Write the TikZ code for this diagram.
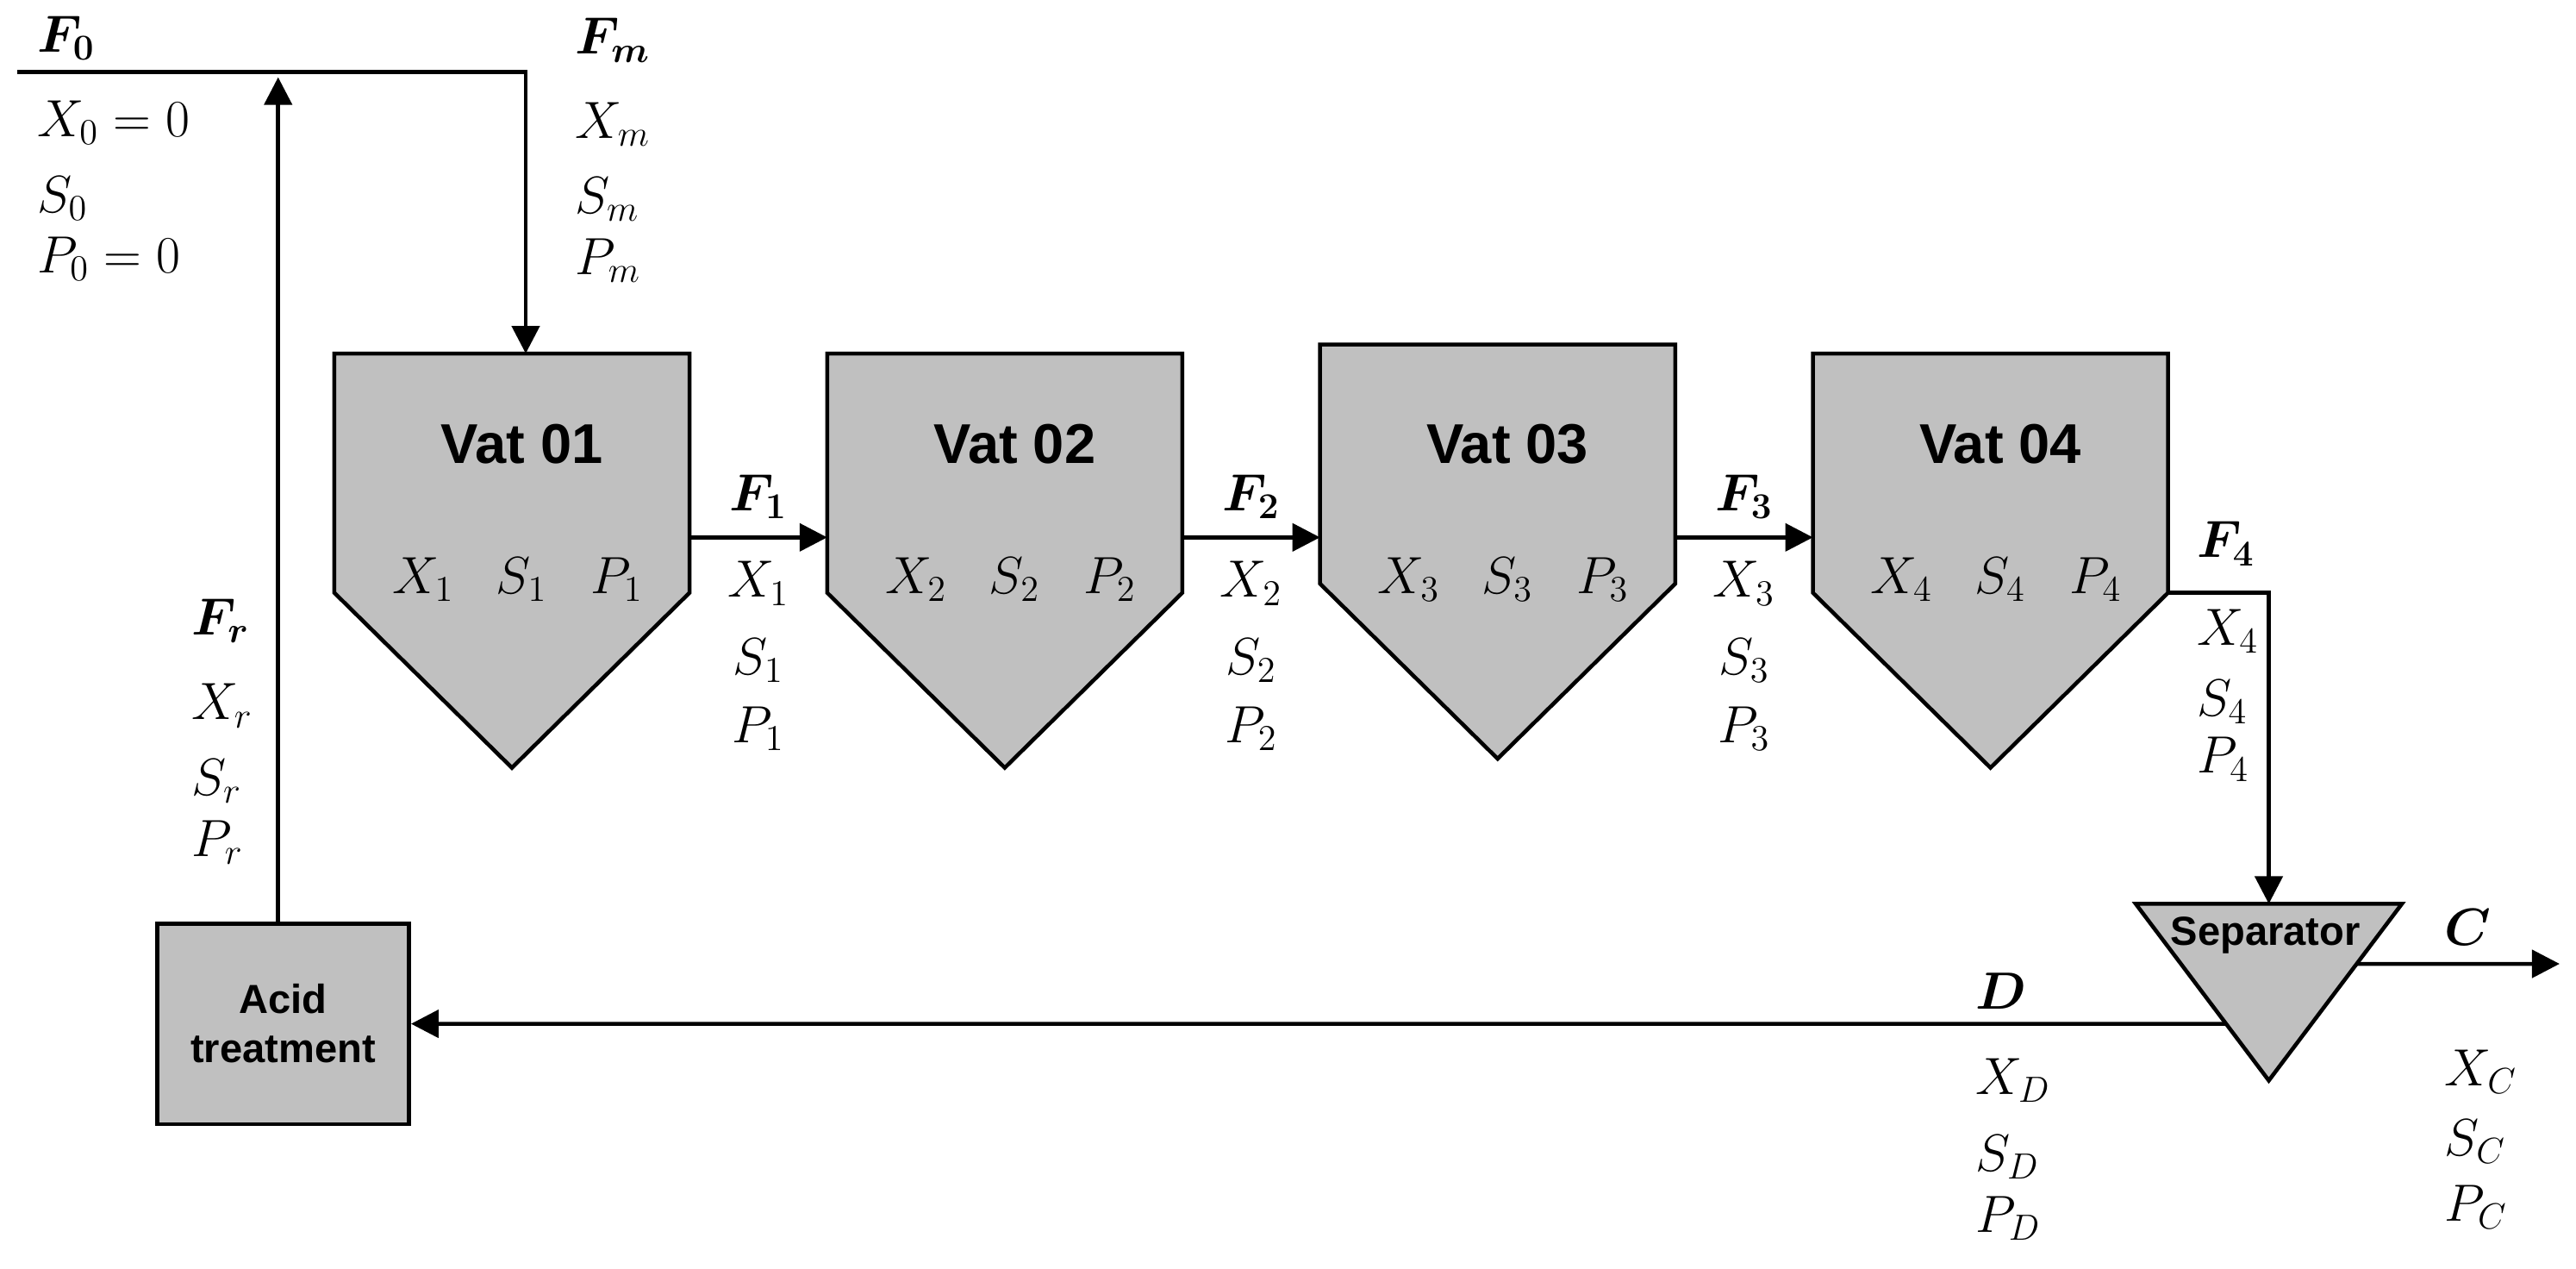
\documentclass[tikz,border=0pt]{standalone}
\usepackage{fontspec}
\setmainfont{Liberation Sans}
\usepackage{bm}
\usetikzlibrary{arrows.meta,positioning,calc}
\definecolor{vatgray}{RGB}{192,192,192}

\begin{document}
\begin{tikzpicture}[x=0.1906mm, y=-0.1906mm, line width=1.3pt,
		v/.style={font=\fontsize{17.28}{20}\selectfont, inner sep=0pt, anchor=base},
		vl/.style={v, anchor=base west},
		ttl/.style={font=\fontsize{18.5}{22}\selectfont\bfseries, inner sep=0pt},
		unit/.style={draw, fill=vatgray, font=\fontsize{13.4}{16.2}\selectfont\bfseries, align=center},
		body/.style={minimum width=40.75mm, minimum height=27.29mm, inner sep=0pt},
		flow/.style={-{Triangle[length=3.2mm,width=3.2mm]}}]
	\useasboundingbox (0,0) rectangle (1568,772);
	\coordinate (titleline) at (0,270);
	\coordinate (varline) at (0,361);
	\foreach \n/\x/\y in {1/311.6/287.9, 2/611.6/287.9, 3/911.6/282.4, 4/1211.6/287.9} {
		\node[body] (vat\n) at (\x,\y) {};
		\draw[fill=vatgray] (vat\n.north west) -- (vat\n.north east) -- (vat\n.south east)
			-- ($(vat\n.south)+(0,106.5)$) -- (vat\n.south west) -- cycle;
		\node[ttl] at ($(vat\n.north |- titleline)+(6,0)$) {Vat 0\n};
		\node[v] at ($(vat\n.south |- varline)+(-54,0)$) {$X_\n$};
		\node[v] at ($(vat\n.south |- varline)+(6,0)$) {$S_\n$};
		\node[v] at ($(vat\n.south |- varline)+(64,0)$) {$P_\n$};
	}
	\coordinate (lvl) at (0,327);
	\foreach \a/\b in {1/2,2/3,3/4} {
		\draw[flow] (vat\a.east |- lvl) -- coordinate (m\a) (vat\b.west |- lvl);
		\node[v] (f\a) at ($(m\a)+(0,-16)$) {$\bm{F_\a}$};
		\node[v] at ($(m\a)+(0,36.5)$) {$X_\a$};
		\node[v] at ($(m\a)+(0,83.5)$) {$S_\a$};
		\node[v] at ($(m\a)+(0,125)$) {$P_\a$};
	}
	\coordinate (feed) at (10.7,43.7);
	\coordinate (in1) at ($(vat1.north)+(8.4,0)$);
	\draw[flow] (feed) -| (in1);
	\node[vl] (f0) at (21.4,31.5) {$\bm{F_0}$};
	\node[vl] at (21.4,83) {$X_0 = 0$};
	\node[vl] at (21.4,129.5) {$S_0$};
	\node[vl] at (21.4,166) {$P_0 = 0$};
	\node[vl] (fm) at (349,33) {$\bm{F_m}$};
	\node[vl] at (349,84) {$X_m$};
	\node[vl] at (349,130) {$S_m$};
	\node[vl] at (349,167) {$P_m$};

	\node[unit, minimum width=29.24mm, minimum height=23.25mm] (acid) at (172.3,623) {Acid\\treatment};
	\coordinate (rbase) at ($(acid.north)+(-3,0)$);
	\coordinate (rtop) at (0,47);
	\draw[flow] (rbase) -- (rbase |- rtop);
	\node[vl] (fr) at (115.5,386.5) {$\bm{F_r}$};
	\node[vl] at (115.5,438) {$X_r$};
	\node[vl] at (115.5,484) {$S_r$};
	\node[vl] at (115.5,521) {$P_r$};

	\coordinate (sepL) at (1300,550);
	\coordinate (sepR) at (1462,550);
	\coordinate (sepB) at (1381,657.5);
	\coordinate (sepT) at (sepL -| sepB);
	\draw[fill=vatgray] (sepL) -- (sepR) -- (sepB) -- cycle;
	\node[font=\fontsize{13.4}{16}\selectfont\bfseries, inner sep=0pt] (sep) at (1379,569) {Separator};
	\draw[flow] (vat4.south east) -| (sepT);
	\node[vl] (f4) at (1336,339.4) {$\bm{F_4}$};
	\node[vl] at (1336,392.5) {$X_4$};
	\node[vl] at (1336,435.5) {$S_4$};
	\node[vl] at (1336,470.5) {$P_4$};

	\coordinate (cout) at ($(sepR)!0.34!(sepB)$);
	\coordinate (cend) at (1558,586.5);
	\draw[flow] (cout) -- (cend);
	\node[vl] (c) at (1487,575) {$\bm{C}$};
	\node[vl] at (1487,660.5) {$X_C$};
	\node[vl] at (1487,703) {$S_C$};
	\node[vl] at (1487,743) {$P_C$};

	\coordinate (dout) at ($(sepL)!0.679!(sepB)$);
	\draw[flow] (dout) -- (acid.east);
	\node[vl] (d) at (1201.5,614) {$\bm{D}$};
	\node[vl] at (1201.5,666) {$X_D$};
	\node[vl] at (1201.5,712.5) {$S_D$};
	\node[vl] at (1201.5,750) {$P_D$};
\end{tikzpicture}
\end{document}
